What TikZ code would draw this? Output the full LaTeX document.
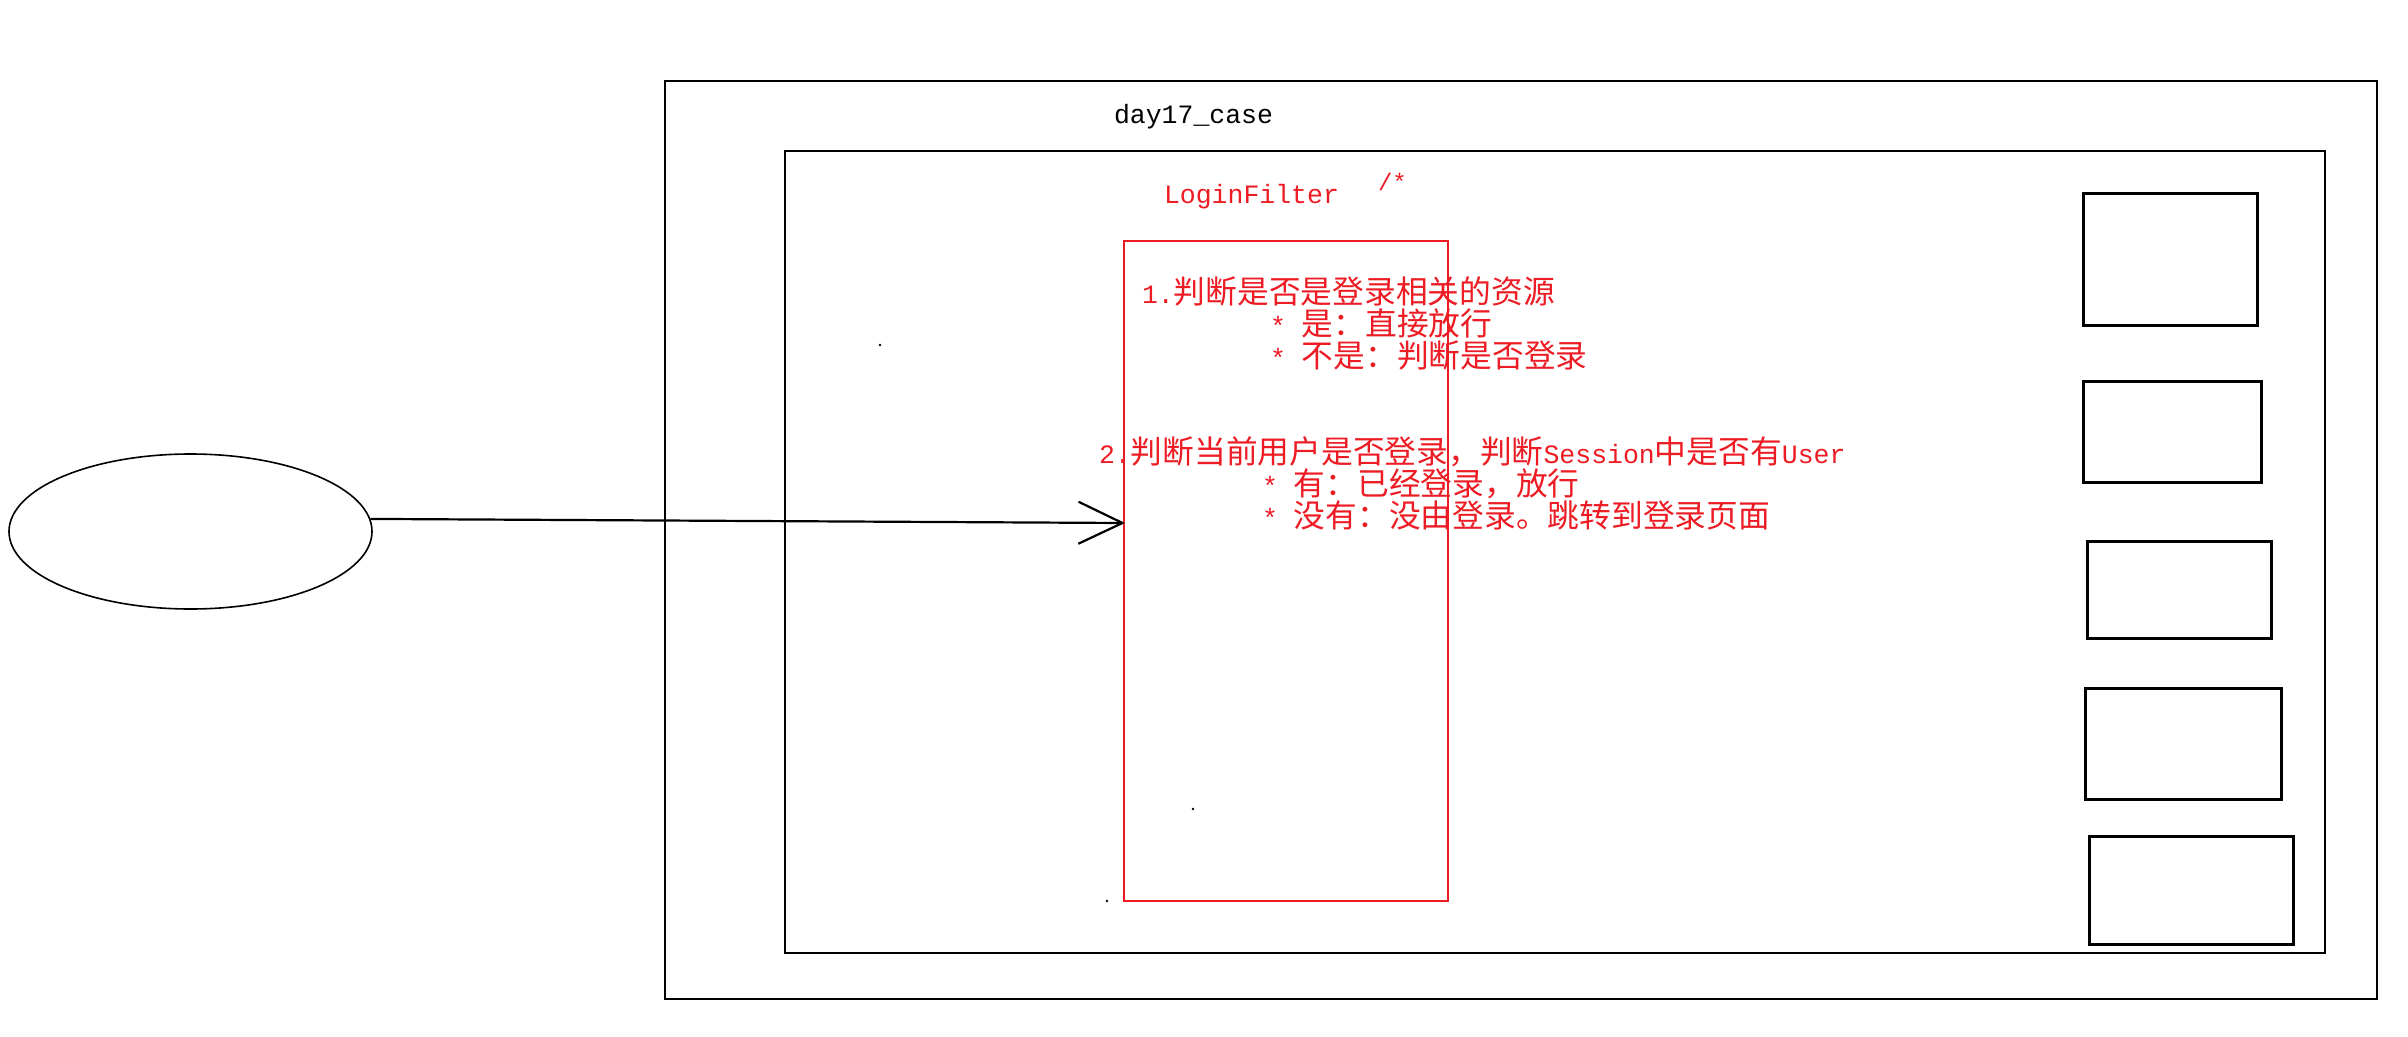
\documentclass[tikz,border=0pt]{standalone}
\usepackage{fontspec}
\usetikzlibrary{arrows.meta,shapes.geometric}
\newfontfamily\zhfam{Noto Sans CJK SC}
\newfontfamily\ltfam{Liberation Mono}
\definecolor{pred}{RGB}{237,28,36}
\newcommand\zhtxt[1]{{\zhfam\fontsize{31.75pt}{32pt}\selectfont #1}}
\newcommand\mtxt[1]{{\ltfam\fontsize{26.5pt}{32pt}\selectfont #1}}
\begin{document}
\begin{tikzpicture}[x=1pt,y=-1pt,
  box/.style={draw=black, line width=2pt, anchor=north west, inner sep=0pt, outer sep=0pt},
  sbox/.style={box, line width=3pt},
  rbox/.style={draw=pred, line width=1.8pt, anchor=north west, inner sep=0pt, outer sep=0pt},
  lbl/.style={anchor=base west, inner sep=0pt, outer sep=0pt},
  rlbl/.style={lbl, text=pred},
  conn/.style={draw=black, line width=2.2pt, -{Straight Barb[length=44pt,width=42pt]}}
]
\fill[white] (0,0) rectangle (2408,1036);
\useasboundingbox (0,0) rectangle (2408,1036);

% containers
\node[box, minimum width=1712pt, minimum height=918pt] (outer) at (665,81) {};
\node[box, minimum width=1540pt, minimum height=802pt] (inner) at (785,151) {};
\node[rbox, minimum width=324pt, minimum height=660pt] (filter) at (1124,241) {};

% resource boxes
\node[sbox, minimum width=174pt, minimum height=132pt] (r1) at (2083,193) {};
\node[sbox, minimum width=178pt, minimum height=101pt] (r2) at (2083,381) {};
\node[sbox, minimum width=184pt, minimum height=97pt]  (r3) at (2087,541) {};
\node[sbox, minimum width=196pt, minimum height=111pt] (r4) at (2085,688) {};
\node[sbox, minimum width=204pt, minimum height=108pt] (r5) at (2089,836) {};

% client
\node[draw=black, ellipse, line width=1.6pt, minimum width=363pt, minimum height=155pt, inner sep=0pt] (client) at (190.5,531.5) {};

% labels
\node[lbl] (proj) at (1114,123) {\mtxt{day17\_case}};
\node[rlbl] (fname) at (1164,203) {\mtxt{LoginFilter}};
\node[rlbl] (pattern) at (1378,190) {{\ltfam\fontsize{24pt}{28pt}\selectfont /*}};

\node[rlbl] (t1) at (1142,303) {\mtxt{1.}\zhtxt{判断是否是登录相关的资源}};
\node[rlbl] (t2) at (1270,335) {\mtxt{*\ }\zhtxt{是：直接放行}};
\node[rlbl] (t3) at (1270,367) {\mtxt{*\ }\zhtxt{不是：判断是否登录}};
\node[rlbl] (t4) at (1099,463) {\mtxt{2.}\zhtxt{判断当前用户是否登录，判断}\mtxt{Session}\zhtxt{中是否有}\mtxt{User}};
\node[rlbl] (t5) at (1262,495) {\mtxt{*\ }\zhtxt{有：已经登录，放行}};
\node[rlbl] (t6) at (1262,527) {\mtxt{*\ }\zhtxt{没有：没由登录。跳转到登录页面}};

% connector
\coordinate (arrE) at (1125,523);
\draw[conn] (client.4.5) -- (arrE);

% stray dots
\fill[black] (880,345) circle (1.3pt);
\fill[black] (1193,809) circle (1.3pt);
\fill[black] (1107,901) circle (1.3pt);
\end{tikzpicture}
\end{document}
